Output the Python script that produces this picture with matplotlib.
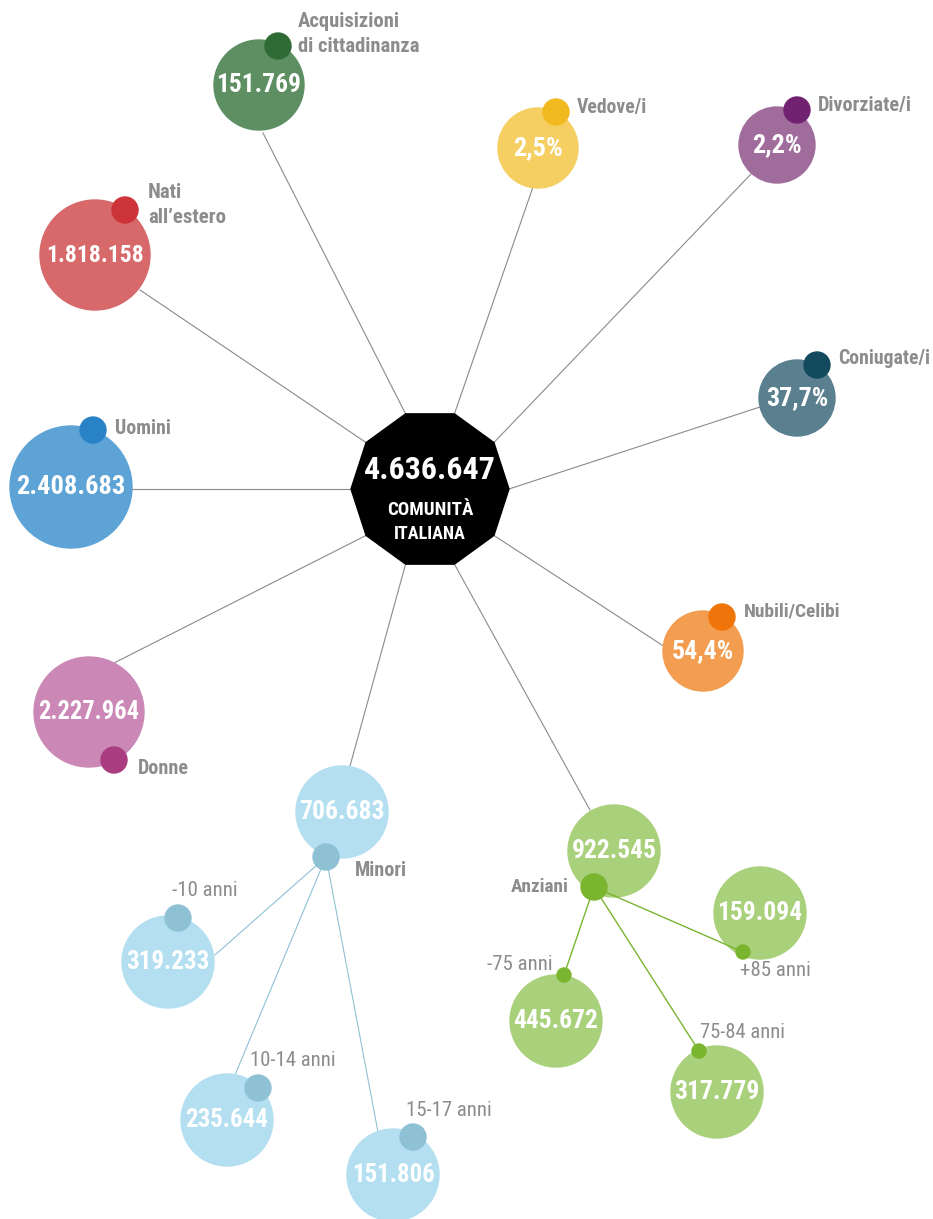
import os
import numpy as np
import matplotlib.pyplot as plt
from matplotlib.patches import Circle, RegularPolygon
from matplotlib.font_manager import fontManager, FontProperties

# cerca un font condensato tra quelli installati
def trova_font(schemi):
    files = [f.fname for f in fontManager.ttflist]
    for s in schemi:
        for fn in files:
            if s in os.path.basename(fn).lower():
                return fn
    return None

f_bold = trova_font(['robotocondensed-bold', 'liberationsansnarrow-bold', 'notosans-condensedbold',
                     'dejavusanscondensed-bold', 'opensans-condensedbold', 'opensans_condensed-bold'])
f_reg = trova_font(['robotocondensed-regular', 'liberationsansnarrow-regular', 'notosans-condensed.',
                    'dejavusanscondensed.', 'opensans-condensedregular', 'opensans_condensed-regular'])
fp_bold = FontProperties(fname=f_bold) if f_bold else FontProperties(family='Roboto', weight='bold')
fp_reg = FontProperties(fname=f_reg) if f_reg else FontProperties(family='Roboto')

totale = '4.636.647'
totale_label = ['COMUNITÀ', 'ITALIANA']

# rami principali
nomi = ['Acquisizioni\ndi cittadinanza', 'Nati\nall’estero', 'Uomini', 'Donne', 'Minori',
        'Anziani', 'Nubili/Celibi', 'Coniugate/i', 'Divorziate/i', 'Vedove/i']
valori = ['151.769', '1.818.158', '2.408.683', '2.227.964', '706.683',
          '922.545', '54,4%', '37,7%', '2,2%', '2,5%']
col_cerchio = ['#5e8f62', '#d7696b', '#5ea3d6', '#cb88b6', '#b3dff1',
               '#a9d07a', '#f29d50', '#5a7f8f', '#a06c9c', '#f6cf62']
col_punto = ['#2e6b35', '#cc343a', '#2a82c6', '#aa3d7f', '#8fc1d4',
             '#7ab52f', '#ef750a', '#134a5e', '#712270', '#f2b920']

# sotto-rami
minori_nomi = ['-10 anni', '10-14 anni', '15-17 anni']
minori_valori = ['319.233', '235.644', '151.806']
anziani_nomi = ['-75 anni', '75-84 anni', '+85 anni']
anziani_valori = ['445.672', '317.779', '159.094']

# layout (pixel)
cx, cy, R = 430, 489, 79
pos = [(259, 85), (95, 255), (71, 487), (89, 712), (342, 812),
       (614, 851), (703, 651), (797, 398), (777, 145), (538, 148)]
raggi = [45, 55, 61, 55, 46, 46, 40, 38, 38, 40]
vertice_ang = [108, 144, 180, 216, 252, 288, 324, 0, 36, 72]
fine_linea = [(263, 133), (140, 290), (132, 489), (110, 665), (350, 766),
              (590, 810), (665, 647), (760, 407), (752, 173), (533, 187)]
punti = [(278, 46), (125, 210), (93, 430), (114, 760), (326, 857),
         (594, 887), (722, 617), (817, 365), (797, 110), (556, 112)]
etichette = [(298, 34, 'left'), (148, 205, 'left'), (115, 429, 'left'), (138, 768, 'left'),
             (355, 871, 'left'), (569, 887, 'right'), (744, 611, 'left'),
             (838, 359, 'left'), (818, 105, 'left'), (577, 107, 'left')]
larg_etich = [122, 78, 56, 51, 52, 58, 97, 92, 94, 70]
larg_valori = [85, 97, 109, 101, 85, 85, 62, 62, 50, 50]

minori_pos = [(168, 962), (227, 1120), (393, 1175)]
minori_punti = [(178, 918), (258, 1088), (413, 1137)]
minori_linee = [(215, 955), (235, 1075), (378, 1132)]
minori_etich = [(172, 890, 'left'), (250, 1060, 'left'), (406, 1110, 'left')]
minori_larg = [66, 86, 86]

anziani_pos = [(556, 1021), (717, 1092), (760, 913)]
anziani_punti = [(564, 975), (699, 1051), (743, 952)]
anziani_etich = [(553, 965, 'right'), (700, 1032, 'left'), (740, 970, 'left')]
anziani_larg = [66, 85, 72]

grigio = '#8c8c8c'

fig = plt.figure(figsize=(9.33, 12.19), dpi=100)
ax = fig.add_axes([0, 0, 1, 1])
ax.set_xlim(0, 933)
ax.set_ylim(1219, 0)
ax.set_aspect('equal')
ax.axis('off')
renderer = fig.canvas.get_renderer()


def testo(x, y, s, fp, size, larg, **kw):
    t = ax.text(x, y, s, fontproperties=fp, va='center', zorder=4, **kw)
    t.set_fontsize(size)
    w = t.get_window_extent(renderer).width
    t.set_fontsize(min(size, size * larg / w))
    return t


# linee dal centro
for i in range(len(nomi)):
    a = np.radians(vertice_ang[i])
    vx, vy = cx + R * np.cos(a), cy - R * np.sin(a)
    ax.plot([vx, fine_linea[i][0]], [vy, fine_linea[i][1]], color='#8a8a8a', lw=0.8, zorder=1)

ax.add_patch(RegularPolygon((cx, cy), 10, radius=R, orientation=np.radians(18),
                            color='black', zorder=3))
testo(cx, cy - 19, totale, fp_bold, 28, 131, color='white', ha='center')
testo(cx, cy + 21, totale_label[0], fp_bold, 14, 86, color='white', ha='center')
testo(cx, cy + 45, totale_label[1], fp_bold, 14, 72, color='white', ha='center')

for i in range(len(nomi)):
    x, y = pos[i]
    ax.add_patch(Circle((x, y), raggi[i], color=col_cerchio[i], zorder=2))
    ax.add_patch(Circle(punti[i], 13, color=col_punto[i], zorder=3))
    testo(x, y, valori[i], fp_bold, 21, larg_valori[i], color='white', ha='center')
    lx, ly, ha = etichette[i]
    testo(lx, ly, nomi[i], fp_bold, 15, larg_etich[i], color=grigio, ha=ha, linespacing=1.35)

# Minori
mx, my = punti[4]
for i in range(len(minori_nomi)):
    ax.plot([mx, minori_linee[i][0]], [my, minori_linee[i][1]], color=col_punto[4], lw=0.8, zorder=1)
    x, y = minori_pos[i]
    ax.add_patch(Circle((x, y), 46, color=col_cerchio[4], zorder=2))
    ax.add_patch(Circle(minori_punti[i], 13, color=col_punto[4], zorder=3))
    testo(x, y, minori_valori[i], fp_bold, 20, 83, color='white', ha='center')
    lx, ly, ha = minori_etich[i]
    testo(lx, ly, minori_nomi[i], fp_reg, 15, minori_larg[i], color=grigio, ha=ha)

# Anziani
zx, zy = punti[5]
for i in range(len(anziani_nomi)):
    ax.plot([zx, anziani_punti[i][0]], [zy, anziani_punti[i][1]], color=col_punto[5], lw=1, zorder=3)
    x, y = anziani_pos[i]
    ax.add_patch(Circle((x, y), 46, color=col_cerchio[5], zorder=2))
    ax.add_patch(Circle(anziani_punti[i], 7, color=col_punto[5], zorder=3))
    testo(x, y, anziani_valori[i], fp_bold, 20, 85, color='white', ha='center')
    lx, ly, ha = anziani_etich[i]
    testo(lx, ly, anziani_nomi[i], fp_reg, 15, anziani_larg[i], color=grigio, ha=ha)

fig.savefig('out.png', dpi=100)
